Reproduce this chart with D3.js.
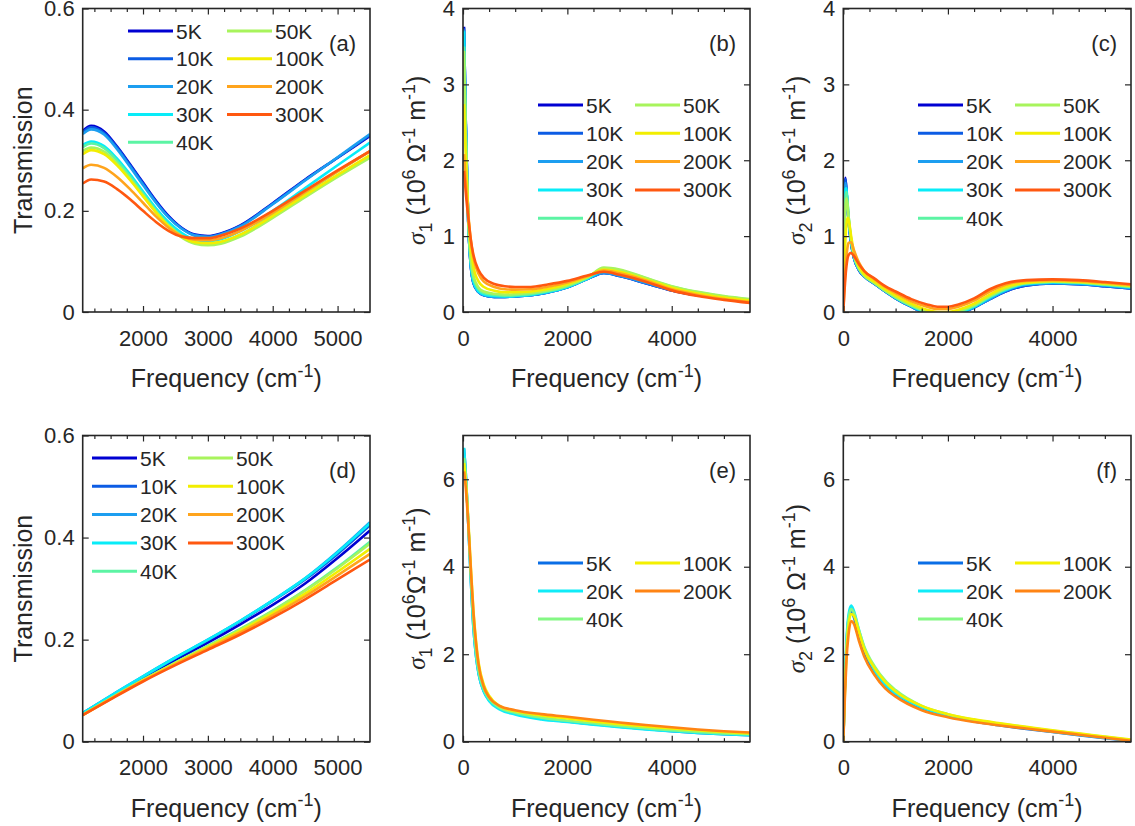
<!DOCTYPE html>
<html lang="en">
<head>
<meta charset="UTF-8">
<title>Optical spectra</title>
<style>
  body { margin: 0; background: #fff; }
  svg { display: block; }
</style>
</head>
<body>
<script src="https://d3js.org/d3.v7.min.js"></script>
<script>
// ---- data ----
var tempsTop = ['5K', '10K', '20K', '30K', '40K', '50K', '100K', '200K', '300K'];
var colorsTop = ['#0000d2', '#0c5ce4', '#1c9ef0', '#08ecf8', '#5cf4a4', '#a8f45c', '#f2ee00', '#ffa41c', '#ff5810'];
var tempsBot = ['5K', '20K', '40K', '100K', '200K'];
var colorsBot = ['#0a6ee6', '#10ecf8', '#84f884', '#f4f000', '#ff8414'];

// (a) transmission, top sample
var freqA = [1070, 1200, 1400, 1600, 1800, 2000, 2200, 2400, 2600, 2800, 3000, 3200, 3500, 4000, 4500, 5000, 5500];
var transA = [
  [0.358, 0.368, 0.357, 0.327, 0.292, 0.256, 0.220, 0.189, 0.166, 0.153, 0.150, 0.155, 0.171, 0.215, 0.262, 0.305, 0.348],
  [0.355, 0.365, 0.354, 0.325, 0.290, 0.254, 0.218, 0.187, 0.165, 0.152, 0.149, 0.154, 0.170, 0.214, 0.261, 0.305, 0.350],
  [0.352, 0.361, 0.351, 0.322, 0.287, 0.251, 0.216, 0.186, 0.164, 0.151, 0.148, 0.153, 0.169, 0.213, 0.260, 0.306, 0.352],
  [0.330, 0.337, 0.328, 0.303, 0.272, 0.238, 0.205, 0.177, 0.156, 0.143, 0.140, 0.144, 0.160, 0.200, 0.245, 0.290, 0.335],
  [0.326, 0.333, 0.324, 0.299, 0.268, 0.234, 0.201, 0.172, 0.151, 0.138, 0.135, 0.138, 0.153, 0.192, 0.235, 0.278, 0.318],
  [0.318, 0.325, 0.317, 0.293, 0.263, 0.230, 0.197, 0.168, 0.147, 0.135, 0.132, 0.135, 0.149, 0.186, 0.227, 0.267, 0.305],
  [0.312, 0.320, 0.312, 0.290, 0.261, 0.229, 0.197, 0.169, 0.149, 0.138, 0.136, 0.139, 0.153, 0.190, 0.231, 0.271, 0.310],
  [0.284, 0.291, 0.285, 0.267, 0.243, 0.216, 0.189, 0.166, 0.150, 0.143, 0.142, 0.146, 0.160, 0.196, 0.237, 0.278, 0.318],
  [0.254, 0.262, 0.258, 0.243, 0.223, 0.200, 0.178, 0.160, 0.149, 0.146, 0.146, 0.151, 0.165, 0.200, 0.240, 0.280, 0.318]
];

// (b) sigma1, top sample
var freqB = [20, 50, 100, 150, 200, 300, 400, 600, 800, 1000, 1300, 1600, 2000, 2400, 2700, 3000, 3500, 4000, 4500, 5000, 5500];
var sig1B = [
  [3.76, 2.60, 1.20, 0.60, 0.38, 0.26, 0.22, 0.200, 0.200, 0.205, 0.220, 0.255, 0.325, 0.440, 0.515, 0.475, 0.380, 0.285, 0.220, 0.175, 0.140],
  [3.74, 2.58, 1.19, 0.60, 0.38, 0.26, 0.22, 0.200, 0.200, 0.205, 0.220, 0.255, 0.325, 0.440, 0.515, 0.475, 0.380, 0.285, 0.220, 0.175, 0.140],
  [3.72, 2.55, 1.18, 0.60, 0.39, 0.26, 0.22, 0.200, 0.200, 0.205, 0.220, 0.255, 0.325, 0.440, 0.515, 0.478, 0.385, 0.290, 0.225, 0.178, 0.140],
  [3.70, 2.55, 1.20, 0.62, 0.40, 0.27, 0.23, 0.210, 0.205, 0.210, 0.225, 0.260, 0.330, 0.445, 0.540, 0.505, 0.410, 0.310, 0.240, 0.188, 0.150],
  [3.50, 2.45, 1.20, 0.67, 0.45, 0.30, 0.25, 0.225, 0.215, 0.220, 0.235, 0.270, 0.340, 0.455, 0.575, 0.550, 0.445, 0.335, 0.260, 0.205, 0.165],
  [3.44, 2.40, 1.25, 0.70, 0.48, 0.32, 0.27, 0.240, 0.230, 0.235, 0.250, 0.280, 0.350, 0.465, 0.585, 0.560, 0.450, 0.340, 0.265, 0.210, 0.170],
  [2.74, 2.10, 1.30, 0.85, 0.60, 0.40, 0.33, 0.280, 0.260, 0.260, 0.270, 0.300, 0.370, 0.470, 0.560, 0.530, 0.430, 0.320, 0.245, 0.190, 0.150],
  [2.08, 1.75, 1.30, 0.95, 0.72, 0.50, 0.40, 0.330, 0.300, 0.295, 0.300, 0.330, 0.390, 0.475, 0.545, 0.510, 0.415, 0.300, 0.225, 0.170, 0.130],
  [1.86, 1.60, 1.25, 0.95, 0.75, 0.55, 0.45, 0.370, 0.340, 0.330, 0.330, 0.360, 0.410, 0.485, 0.530, 0.490, 0.400, 0.285, 0.210, 0.160, 0.120]
];

// (c) sigma2, top sample
var freqC = [0, 20, 40, 60, 80, 100, 150, 200, 300, 400, 600, 800, 1000, 1300, 1600, 1800, 2000, 2200, 2500, 2800, 3100, 3500, 4000, 4500, 5000, 5500];
var sig2C = [
  [0, 1.30, 1.77, 1.60, 1.38, 1.20, 0.90, 0.72, 0.55, 0.47, 0.37, 0.27, 0.18, 0.07, -0.02, -0.05, -0.05, -0.02, 0.06, 0.17, 0.27, 0.35, 0.375, 0.365, 0.340, 0.310],
  [0, 1.28, 1.75, 1.60, 1.38, 1.20, 0.90, 0.72, 0.55, 0.47, 0.37, 0.27, 0.18, 0.07, -0.02, -0.05, -0.05, -0.02, 0.06, 0.17, 0.27, 0.35, 0.375, 0.365, 0.340, 0.310],
  [0, 1.22, 1.70, 1.60, 1.40, 1.22, 0.92, 0.73, 0.56, 0.47, 0.37, 0.27, 0.18, 0.07, -0.02, -0.05, -0.05, -0.02, 0.06, 0.17, 0.28, 0.36, 0.380, 0.370, 0.345, 0.315],
  [0, 1.10, 1.62, 1.63, 1.45, 1.25, 0.93, 0.74, 0.56, 0.48, 0.38, 0.28, 0.19, 0.08, -0.01, -0.04, -0.04, -0.01, 0.07, 0.19, 0.29, 0.37, 0.390, 0.380, 0.355, 0.325],
  [0, 1.00, 1.50, 1.58, 1.45, 1.27, 0.95, 0.75, 0.57, 0.48, 0.38, 0.28, 0.19, 0.08, 0.00, -0.03, -0.03, 0.00, 0.08, 0.20, 0.30, 0.38, 0.400, 0.390, 0.360, 0.330],
  [0, 0.90, 1.38, 1.50, 1.42, 1.27, 0.96, 0.76, 0.57, 0.48, 0.38, 0.28, 0.20, 0.09, 0.01, -0.02, -0.02, 0.01, 0.09, 0.21, 0.31, 0.38, 0.400, 0.390, 0.365, 0.335],
  [0, 0.55, 0.95, 1.15, 1.24, 1.22, 1.00, 0.80, 0.60, 0.50, 0.40, 0.30, 0.22, 0.11, 0.03, 0.00, 0.00, 0.03, 0.11, 0.23, 0.33, 0.39, 0.410, 0.400, 0.375, 0.345],
  [0, 0.30, 0.55, 0.73, 0.85, 0.91, 0.92, 0.82, 0.65, 0.54, 0.43, 0.33, 0.25, 0.14, 0.07, 0.04, 0.04, 0.07, 0.15, 0.27, 0.36, 0.41, 0.420, 0.410, 0.385, 0.355],
  [0, 0.25, 0.45, 0.60, 0.70, 0.75, 0.78, 0.74, 0.63, 0.54, 0.44, 0.34, 0.27, 0.17, 0.10, 0.07, 0.07, 0.10, 0.18, 0.30, 0.38, 0.42, 0.430, 0.420, 0.395, 0.365]
];

// (d) transmission, bottom sample
var freqD = [1070, 1500, 2000, 2500, 3000, 3500, 4000, 4500, 5000, 5500];
var transD = [
  [0.055, 0.087, 0.124, 0.160, 0.194, 0.230, 0.268, 0.310, 0.360, 0.414],
  [0.056, 0.089, 0.127, 0.164, 0.199, 0.236, 0.276, 0.318, 0.368, 0.424],
  [0.056, 0.090, 0.128, 0.165, 0.200, 0.237, 0.277, 0.320, 0.372, 0.430],
  [0.056, 0.090, 0.128, 0.165, 0.200, 0.237, 0.277, 0.320, 0.371, 0.428],
  [0.053, 0.085, 0.121, 0.155, 0.188, 0.221, 0.257, 0.297, 0.342, 0.392],
  [0.053, 0.085, 0.121, 0.155, 0.187, 0.220, 0.256, 0.296, 0.340, 0.388],
  [0.052, 0.084, 0.120, 0.153, 0.185, 0.217, 0.252, 0.290, 0.333, 0.378],
  [0.052, 0.084, 0.119, 0.152, 0.183, 0.214, 0.248, 0.285, 0.326, 0.368],
  [0.052, 0.083, 0.118, 0.150, 0.180, 0.210, 0.243, 0.279, 0.318, 0.357]
];

// (e) sigma1, bottom sample
var freqE = [20, 50, 100, 150, 200, 250, 300, 400, 500, 700, 1000, 1500, 2000, 2500, 3000, 3500, 4000, 4500, 5000, 5500];
var sig1E = [
  [6.70, 6.20, 5.00, 3.70, 2.60, 1.95, 1.55, 1.15, 0.95, 0.76, 0.64, 0.53, 0.46, 0.40, 0.34, 0.29, 0.24, 0.20, 0.17, 0.15],
  [6.72, 6.20, 5.00, 3.70, 2.60, 1.95, 1.55, 1.14, 0.93, 0.74, 0.62, 0.51, 0.45, 0.39, 0.33, 0.28, 0.24, 0.20, 0.17, 0.15],
  [6.49, 6.10, 5.05, 3.80, 2.75, 2.05, 1.62, 1.20, 0.98, 0.78, 0.66, 0.55, 0.48, 0.42, 0.36, 0.31, 0.26, 0.22, 0.19, 0.17],
  [6.37, 6.00, 5.10, 4.00, 3.00, 2.30, 1.80, 1.30, 1.05, 0.82, 0.70, 0.60, 0.53, 0.46, 0.40, 0.35, 0.30, 0.26, 0.22, 0.19],
  [6.18, 5.85, 5.00, 3.95, 2.95, 2.25, 1.75, 1.25, 1.02, 0.82, 0.72, 0.63, 0.57, 0.50, 0.44, 0.38, 0.33, 0.28, 0.24, 0.21]
];

// (f) sigma2, bottom sample
var freqF = [0, 30, 60, 100, 150, 200, 300, 400, 600, 800, 1000, 1500, 2000, 2500, 3000, 3500, 4000, 4500, 5000, 5500];
var sig2F = [
  [0, 1.25, 2.20, 2.80, 2.98, 2.85, 2.40, 2.00, 1.55, 1.25, 1.05, 0.75, 0.58, 0.46, 0.37, 0.29, 0.22, 0.15, 0.08, 0.02],
  [0, 1.30, 2.30, 2.90, 3.11, 3.00, 2.55, 2.15, 1.62, 1.30, 1.10, 0.78, 0.60, 0.48, 0.39, 0.31, 0.23, 0.16, 0.09, 0.03],
  [0, 1.20, 2.15, 2.80, 3.03, 2.95, 2.55, 2.18, 1.72, 1.40, 1.18, 0.82, 0.63, 0.50, 0.41, 0.33, 0.25, 0.18, 0.11, 0.04],
  [0, 1.10, 2.00, 2.65, 2.92, 2.88, 2.50, 2.12, 1.68, 1.37, 1.15, 0.82, 0.63, 0.51, 0.42, 0.34, 0.26, 0.19, 0.12, 0.05],
  [0, 1.00, 1.85, 2.45, 2.76, 2.70, 2.30, 1.95, 1.52, 1.22, 1.03, 0.72, 0.56, 0.45, 0.37, 0.30, 0.23, 0.16, 0.09, 0.02]
];

var xTicksT = [2000, 3000, 4000, 5000];
var xTicksS = [0, 2000, 4000];
var yTicksT = [0, 0.2, 0.4, 0.6];
var yTicksTop = [0, 1, 2, 3, 4];
var yTicksBot = [0, 2, 4, 6];

// ---- drawing ----
var FONT = '"Liberation Sans", Arial, Helvetica, sans-serif';
var INK = '#262626';

var svg = d3.select('body').append('svg')
    .attr('width', 1135)
    .attr('height', 826)
    .style('font-family', FONT);

var colL = [82.7, 463, 843.3], colR = [370, 750, 1131];
var rowT = [8.5, 435.5], rowB = [312, 741.7];

var sigTitle = function (n, gap) {
  return [{t: 'σ', it: true}, {t: n, sh: 'sub'}, {t: ' (10'}, {t: '6', sh: 'sup'},
          {t: gap + 'Ω'}, {t: '-1', sh: 'sup'}, {t: ' m'}, {t: '-1', sh: 'sup'}, {t: ')'}];
};

var panels = [
  {id: 'a', c: 0, r: 0, xd: [1070, 5500], yd: [0, 0.6], xt: xTicksT, step: 250, yt: yTicksT,
   freq: freqA, series: transA, colors: colorsTop, temps: tempsTop,
   title: [{t: 'Transmission'}], tx: 32, leg: {x: 128, y: 31, cw: 99, rh: 27.8, rows: 5}},
  {id: 'b', c: 1, r: 0, xd: [0, 5500], yd: [0, 4], xt: xTicksS, step: 500, yt: yTicksTop,
   freq: freqB, series: sig1B, colors: colorsTop, temps: tempsTop,
   title: sigTitle('1', ' '), tx: 425, leg: {x: 538, y: 105, cw: 97, rh: 28.3, rows: 5}},
  {id: 'c', c: 2, r: 0, xd: [0, 5500], yd: [0, 4], xt: xTicksS, step: 500, yt: yTicksTop,
   freq: freqC, series: sig2C, colors: colorsTop, temps: tempsTop,
   title: sigTitle('2', ' '), tx: 805, leg: {x: 918, y: 105, cw: 97, rh: 28.3, rows: 5}},
  {id: 'd', c: 0, r: 1, xd: [1070, 5500], yd: [0, 0.6], xt: xTicksT, step: 250, yt: yTicksT,
   freq: freqD, series: transD, colors: colorsTop, temps: tempsTop,
   title: [{t: 'Transmission'}], tx: 32, leg: {x: 92, y: 458, cw: 96, rh: 28.3, rows: 5}},
  {id: 'e', c: 1, r: 1, xd: [0, 5500], yd: [0, 7], xt: xTicksS, step: 500, yt: yTicksBot,
   freq: freqE, series: sig1E, colors: colorsBot, temps: tempsBot,
   title: sigTitle('1', ''), tx: 425, leg: {x: 538, y: 563, cw: 97, rh: 28, rows: 3}},
  {id: 'f', c: 2, r: 1, xd: [0, 5500], yd: [0, 7], xt: xTicksS, step: 500, yt: yTicksBot,
   freq: freqF, series: sig2F, colors: colorsBot, temps: tempsBot,
   title: sigTitle('2', ' '), tx: 805, leg: {x: 918, y: 563, cw: 97, rh: 28, rows: 3}}
];

// text with sub/superscripts built from tspans
function richText(sel, parts, fs) {
  var cur = 0;
  parts.forEach(function (p) {
    var target = p.sh === 'sup' ? -0.42 * fs : p.sh === 'sub' ? 0.28 * fs : 0;
    var ts = sel.append('tspan').text(p.t).attr('dy', target - cur);
    if (p.sh) ts.attr('font-size', fs * 0.72);
    if (p.it) ts.attr('font-family', '"Liberation Serif", "DejaVu Serif", serif').attr('font-style', 'italic');
    cur = target;
  });
}

panels.forEach(function (p) {
  var L = colL[p.c], R = colR[p.c], T = rowT[p.r], B = rowB[p.r];
  var x = d3.scaleLinear().domain(p.xd).range([L, R]);
  var y = d3.scaleLinear().domain(p.yd).range([B, T]);
  var g = svg.append('g');

  svg.append('clipPath').attr('id', 'clip-' + p.id)
    .append('rect').attr('x', L).attr('y', T).attr('width', R - L).attr('height', B - T);

  var line = d3.line()
      .x(function (d) { return x(d[0]); })
      .y(function (d) { return y(d[1]); })
      .curve(d3.curveMonotoneX);

  g.append('g').attr('clip-path', 'url(#clip-' + p.id + ')')
    .selectAll('path')
    .data(p.series)
    .enter()
    .append('path')
    .attr('d', function (s) { return line(d3.zip(p.freq, s)); })
    .attr('fill', 'none')
    .attr('stroke', function (s, i) { return p.colors[i]; })
    .attr('stroke-width', 2.6)
    .attr('stroke-linejoin', 'round');

  // ticks, all pointing inward
  var minor = d3.range(Math.ceil(p.xd[0] / p.step) * p.step, p.xd[1] + 1, p.step)
      .filter(function (v) { return p.xt.indexOf(v) < 0 && v > p.xd[0] && v < p.xd[1]; });
  var axis = function (gen, tr) {
    var a = g.append('g').attr('transform', tr).call(gen);
    a.select('.domain').remove();
    a.attr('font-size', 22).attr('font-family', FONT).attr('color', INK);
    a.selectAll('line').attr('stroke-width', 1.2);
    return a;
  };
  axis(d3.axisBottom(x).tickValues(p.xt).tickSize(-6).tickPadding(18).tickFormat(d3.format('d')), 'translate(0,' + B + ')');
  axis(d3.axisBottom(x).tickValues(minor).tickSize(-3.5).tickFormat(''), 'translate(0,' + B + ')');
  axis(d3.axisTop(x).tickValues(p.xt).tickSize(-6).tickFormat(''), 'translate(0,' + T + ')');
  axis(d3.axisTop(x).tickValues(minor).tickSize(-3.5).tickFormat(''), 'translate(0,' + T + ')');
  axis(d3.axisLeft(y).tickValues(p.yt).tickSize(-6).tickPadding(8)
      .tickFormat(function (d) { return d === 0 ? '0' : (p.yd[1] < 1 ? d.toFixed(1) : d3.format('d')(d)); }),
      'translate(' + L + ',0)');
  axis(d3.axisRight(y).tickValues(p.yt).tickSize(-6).tickFormat(''), 'translate(' + R + ',0)');

  g.append('rect')
    .attr('x', L).attr('y', T).attr('width', R - L).attr('height', B - T)
    .attr('fill', 'none').attr('stroke', INK).attr('stroke-width', 1.6);

  // axis titles
  var xt = g.append('text')
    .attr('x', (L + R) / 2).attr('y', B + 75)
    .attr('text-anchor', 'middle').attr('font-size', 25).attr('fill', INK);
  richText(xt, [{t: 'Frequency (cm'}, {t: '-1', sh: 'sup'}, {t: ')'}], 25);

  var yt = g.append('text')
    .attr('transform', 'translate(' + p.tx + ',' + (T + B) / 2 + ') rotate(-90)')
    .attr('text-anchor', 'middle').attr('font-size', 25).attr('fill', INK);
  richText(yt, p.title, 25);

  // panel tag
  g.append('text')
    .attr('x', R - 14).attr('y', p.r ? 470 : 43)
    .attr('text-anchor', 'end').attr('font-size', 22).attr('fill', INK)
    .attr('dy', '0.35em')
    .text('(' + p.id + ')');

  // legend, column-major, no box
  var leg = g.append('g');
  p.temps.forEach(function (name, i) {
    var col = Math.floor(i / p.leg.rows), row = i % p.leg.rows;
    var lx = p.leg.x + col * p.leg.cw, ly = p.leg.y + row * p.leg.rh;
    leg.append('line')
      .attr('x1', lx).attr('x2', lx + 45).attr('y1', ly).attr('y2', ly)
      .attr('stroke', p.colors[i]).attr('stroke-width', 3);
    leg.append('text')
      .attr('x', lx + 48).attr('y', ly).attr('dy', '0.36em')
      .attr('font-size', 21).attr('fill', INK)
      .text(name);
  });
});
</script>
</body>
</html>
